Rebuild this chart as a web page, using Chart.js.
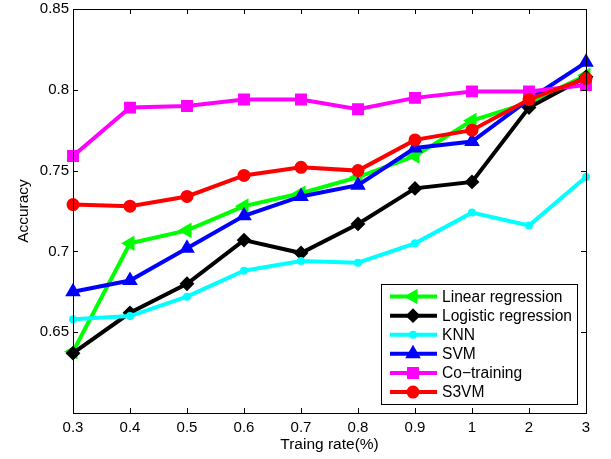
<!DOCTYPE html>
<html>
<head>
<meta charset="utf-8">
<script src="https://cdn.jsdelivr.net/npm/chart.js@4.4.0/dist/chart.umd.min.js"></script>
<style>
  body { margin: 0; background: #fff; }
  canvas { display: block; }
</style>
</head>
<body>
<canvas id="chartCanvas" width="611" height="459"></canvas>
<script>
const rates = ["0.3", "0.4", "0.5", "0.6", "0.7", "0.8", "0.9", "1", "2", "3"];
const linearRegression = [0.638, 0.705, 0.713, 0.728, 0.736, 0.746, 0.759, 0.781, 0.792, 0.809];
const logisticRegression = [0.637, 0.662, 0.680, 0.707, 0.699, 0.717, 0.739, 0.743, 0.789, 0.808];
const knn = [0.658, 0.660, 0.672, 0.688, 0.694, 0.693, 0.705, 0.724, 0.716, 0.746];
const svm = [0.675, 0.682, 0.702, 0.722, 0.734, 0.741, 0.764, 0.768, 0.794, 0.817];
const coTraining = [0.759, 0.789, 0.790, 0.794, 0.794, 0.788, 0.795, 0.799, 0.799, 0.803];
const s3vm = [0.729, 0.728, 0.734, 0.747, 0.752, 0.750, 0.769, 0.775, 0.794, 0.807];
const yTicks = [0.65, 0.7, 0.75, 0.8, 0.85];

const FONT = "'Liberation Sans', Arial, Helvetica, sans-serif";
Chart.defaults.font.family = FONT;
Chart.defaults.font.size = 15;
Chart.defaults.color = "#000";

function makeSet(label, data, color, style, radius, rotation, order) {
  return {
    label: label,
    data: data,
    borderColor: color,
    backgroundColor: color,
    borderWidth: 4,
    pointStyle: style,
    pointRadius: radius,
    pointRotation: rotation,
    pointBorderWidth: 2,
    pointBackgroundColor: color,
    pointBorderColor: color,
    tension: 0,
    fill: false,
    order: order
  };
}

// MATLAB style box with ticks pointing inward
const boxPlugin = {
  id: "box",
  afterDatasetsDraw(chart) {
    const ctx = chart.ctx;
    const a = chart.chartArea;
    const x = chart.scales.x;
    const y = chart.scales.y;
    ctx.save();
    ctx.strokeStyle = "#000";
    ctx.lineWidth = 1;
    ctx.beginPath();
    y.ticks.forEach(t => {
      const py = Math.round(y.getPixelForValue(t.value)) + 0.5;
      ctx.moveTo(a.left, py); ctx.lineTo(a.left + 5, py);
      ctx.moveTo(a.right, py); ctx.lineTo(a.right - 5, py);
    });
    x.ticks.forEach((t, i) => {
      const px = Math.round(x.getPixelForTick(i)) + 0.5;
      ctx.moveTo(px, a.bottom); ctx.lineTo(px, a.bottom - 5);
      ctx.moveTo(px, a.top); ctx.lineTo(px, a.top + 5);
    });
    ctx.stroke();
    ctx.strokeRect(Math.round(a.left) + 0.5, Math.round(a.top) + 0.5,
      Math.round(a.right - a.left), Math.round(a.bottom - a.top));
    ctx.restore();
  }
};

// legend box inside the lower right corner of the plot
const legendPlugin = {
  id: "innerLegend",
  afterDraw(chart) {
    const ctx = chart.ctx;
    const a = chart.chartArea;
    const sets = chart.data.datasets;
    ctx.save();
    ctx.font = "15.6px " + FONT;
    let maxW = 0;
    sets.forEach(d => { maxW = Math.max(maxW, ctx.measureText(d.label).width); });
    const rowH = 19.1;
    const w = Math.round(61 + maxW + 5);
    const h = Math.round(sets.length * rowH + 5);
    const right = Math.round(a.right - 9);
    const bottom = Math.round(a.bottom - 9);
    const left = right - w;
    const top = bottom - h;
    ctx.fillStyle = "#fff";
    ctx.fillRect(left, top, w, h);
    ctx.strokeStyle = "#000";
    ctx.lineWidth = 1;
    ctx.strokeRect(left + 0.5, top + 0.5, w, h);
    sets.forEach((d, i) => {
      const cy = top + 3 + rowH * (i + 0.5);
      ctx.strokeStyle = d.borderColor;
      ctx.lineWidth = 4;
      ctx.beginPath();
      ctx.moveTo(left + 9, cy);
      ctx.lineTo(left + 56, cy);
      ctx.stroke();
      ctx.fillStyle = d.borderColor;
      ctx.lineWidth = 2;
      if (Chart.helpers && Chart.helpers.drawPoint) {
        Chart.helpers.drawPoint(ctx, {
          pointStyle: d.pointStyle, rotation: d.pointRotation,
          radius: d.pointRadius, borderWidth: 2
        }, left + 32, cy);
      } else {
        ctx.beginPath();
        ctx.arc(left + 32, cy, d.pointRadius, 0, Math.PI * 2);
        ctx.fill();
      }
      ctx.fillStyle = "#000";
      ctx.textBaseline = "middle";
      ctx.textAlign = "left";
      ctx.fillText(d.label, left + 61, cy + 1);
    });
    ctx.restore();
  }
};

const ctx = document.getElementById("chartCanvas").getContext("2d");
new Chart(ctx, {
  type: "line",
  data: {
    labels: rates,
    datasets: [
      makeSet("Linear regression", linearRegression, "#00ff00", "triangle", 7, -90, 6),
      makeSet("Logistic regression", logisticRegression, "#000000", "rectRot", 6, 0, 5),
      makeSet("KNN", knn, "#00ffff", "circle", 3, 0, 4),
      makeSet("SVM", svm, "#0000ff", "triangle", 7, 0, 3),
      makeSet("Co\u2212training", coTraining, "#ff00ff", "rect", 7, 0, 2),
      makeSet("S3VM", s3vm, "#ff0000", "circle", 5.5, 0, 1)
    ]
  },
  options: {
    responsive: false,
    animation: false,
    devicePixelRatio: 1,
    layout: { padding: { top: 9, right: 25, left: 0, bottom: 0 } },
    plugins: {
      legend: { display: false },
      tooltip: { enabled: false }
    },
    events: [],
    scales: {
      x: {
        type: "category",
        offset: false,
        grid: { display: false, drawTicks: false },
        border: { display: false },
        ticks: { padding: 6, maxRotation: 0, autoSkip: false },
        title: { display: true, text: "Traing rate(%)", font: { size: 15.5 }, padding: { top: 0, bottom: 5 } },
        afterFit(scale) {
          scale.height = 46;
          scale.paddingLeft = 0;
          scale.paddingRight = 0;
        }
      },
      y: {
        min: 0.6,
        max: 0.85,
        grid: { display: false, drawTicks: false },
        border: { display: false },
        afterBuildTicks(scale) {
          scale.ticks = yTicks.map(v => ({ value: v }));
        },
        ticks: {
          padding: 4,
          callback: v => String(+Number(v).toFixed(2))
        },
        title: { display: true, text: "Accuracy", font: { size: 15.5 }, padding: { top: 14, bottom: 0 } },
        afterFit(scale) {
          scale.width = 73;
          scale.paddingTop = 0;
          scale.paddingBottom = 0;
        }
      }
    }
  },
  plugins: [boxPlugin, legendPlugin]
});
</script>
</body>
</html>
